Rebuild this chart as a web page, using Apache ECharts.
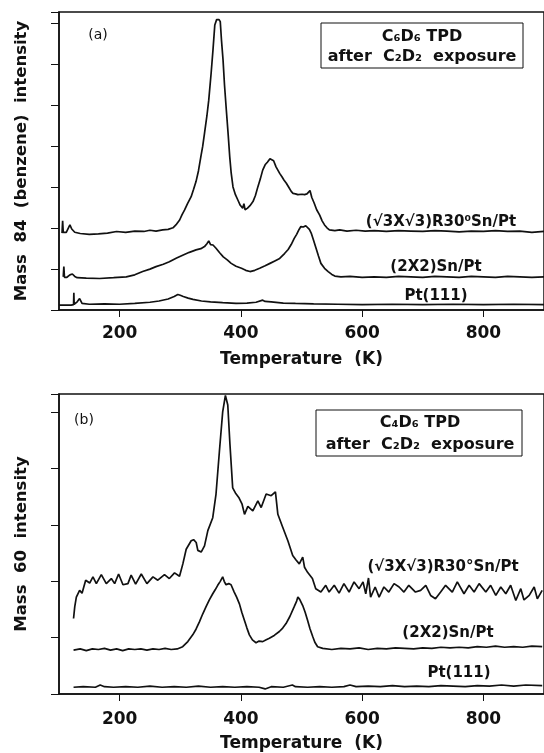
<!DOCTYPE html>
<html>
<head>
<meta charset="utf-8">
<script src="https://cdn.jsdelivr.net/npm/echarts@6/dist/echarts.min.js"></script>
<style>
  html, body { margin: 0; padding: 0; background: #fff; }
  #box { width: 544px; height: 753px; }
</style>
</head>
<body>
<div id="box"></div>
<script>
  // temperature ticks (K)
  const tempTicks = [200, 400, 600, 800];

  // panel (a): mass 84 (benzene), [T (K), intensity in tick units]
  const aR30 = [[105,1.88],[106,2.18],[107,1.9],[112,1.9],[116,2.02],[118,2.08],[121,1.98],[126,1.9],[135,1.87],[150,1.85],[165,1.86],[180,1.88],[195,1.92],[210,1.9],[225,1.93],[240,1.92],[250,1.95],[260,1.93],[271,1.96],[280,1.97],[288,2.01],[294,2.1],[299,2.2],[303,2.33],[307,2.44],[312,2.6],[318,2.77],[322,2.95],[326,3.14],[330,3.4],[334,3.75],[337,4.0],[340,4.32],[344,4.75],[347,5.13],[351,5.8],[354,6.36],[357,6.97],[360,7.1],[362,7.13],[364,7.1],[366,7.05],[368,6.6],[370.6,6.11],[373,5.5],[376,4.89],[379,4.3],[381.6,3.75],[384,3.35],[387,3.01],[391,2.82],[395,2.69],[399,2.56],[403,2.49],[405,2.6],[407,2.45],[411,2.49],[415,2.55],[420,2.65],[424,2.8],[428,3.01],[432,3.2],[436,3.42],[440,3.55],[444,3.62],[448,3.7],[451,3.66],[454,3.65],[458,3.5],[461,3.42],[464,3.34],[468,3.25],[471,3.18],[475,3.1],[479,3.0],[483,2.9],[486,2.85],[490,2.84],[494,2.82],[497,2.81],[501,2.83],[505,2.82],[509,2.84],[512,2.85],[514,2.92],[517,2.75],[521,2.61],[525,2.45],[530,2.32],[534,2.18],[538,2.08],[542,2.01],[546,1.96],[555,1.94],[563,1.96],[575,1.93],[590,1.95],[605,1.93],[620,1.94],[640,1.92],[660,1.94],[680,1.93],[700,1.92],[720,1.94],[740,1.93],[760,1.91],[780,1.93],[800,1.92],[820,1.94],[840,1.92],[860,1.93],[880,1.9],[900,1.92]];
  const aS22 = [[107,0.81],[108,1.06],[109,0.8],[113,0.8],[118,0.86],[122,0.88],[126,0.82],[130,0.79],[145,0.78],[167,0.77],[190,0.79],[211,0.81],[225,0.86],[238,0.94],[250,1.0],[260,1.06],[272,1.12],[282,1.18],[294,1.27],[304,1.34],[315,1.41],[326,1.47],[334,1.5],[340,1.55],[344,1.62],[347,1.69],[350,1.6],[354,1.59],[359,1.51],[365,1.4],[371,1.3],[378,1.22],[384,1.14],[392,1.07],[401,1.02],[408,0.97],[415,0.94],[423,0.97],[431,1.02],[440,1.08],[448,1.14],[456,1.2],[464,1.26],[472,1.38],[478,1.48],[483,1.6],[488,1.75],[492,1.85],[496,1.97],[499,2.04],[503,2.03],[507,2.06],[510,2.05],[513,1.97],[516,1.88],[520,1.7],[524,1.51],[528,1.32],[532,1.14],[538,1.02],[544,0.94],[550,0.87],[555,0.83],[565,0.81],[580,0.82],[600,0.8],[620,0.81],[640,0.8],[660,0.82],[680,0.81],[700,0.8],[720,0.82],[740,0.81],[760,0.8],[780,0.82],[800,0.81],[820,0.8],[840,0.82],[860,0.81],[880,0.8],[900,0.81]];
  const aPt = [[100,0.12],[120,0.12],[124,0.13],[124.5,0.42],[125,0.14],[130,0.2],[134,0.28],[138,0.16],[150,0.14],[175,0.15],[200,0.14],[225,0.16],[250,0.19],[265,0.22],[280,0.27],[290,0.33],[296,0.38],[300,0.36],[305,0.33],[313,0.29],[321,0.26],[335,0.22],[350,0.2],[370,0.18],[392,0.16],[410,0.17],[425,0.19],[436,0.24],[440,0.21],[450,0.2],[470,0.17],[490,0.16],[520,0.15],[560,0.14],[600,0.13],[650,0.14],[700,0.13],[750,0.14],[800,0.13],[850,0.14],[900,0.13]];

  // panel (b): mass 60 (C4D6)
  const bR30 = [[124,1.34],[126,1.55],[128.6,1.72],[134,1.84],[138,1.79],[144,2.02],[150.6,1.97],[156,2.08],[161.6,1.96],[169.8,2.12],[178,1.96],[186.3,2.05],[191.8,1.96],[198.3,2.13],[205.5,1.94],[213.7,1.96],[219,2.11],[226.4,1.95],[235.7,2.13],[245,1.96],[255,2.08],[263,2.02],[274,2.12],[282,2.05],[290.6,2.15],[298.8,2.09],[304.3,2.31],[309.8,2.57],[318,2.72],[322,2.74],[326.3,2.69],[329,2.55],[334.5,2.52],[340,2.63],[345.5,2.9],[353.6,3.13],[359,3.55],[364.6,4.31],[370,5.01],[374.5,5.3],[378.4,5.13],[382,4.43],[386.5,3.66],[391,3.57],[396.5,3.49],[402,3.37],[406,3.19],[411.5,3.33],[419.7,3.25],[428,3.43],[433.5,3.31],[441.7,3.55],[450,3.52],[457,3.59],[461,3.19],[469,2.96],[477.5,2.72],[485.5,2.46],[491,2.38],[496.4,2.31],[502,2.43],[505,2.25],[510,2.16],[518,2.05],[523.5,1.87],[532,1.81],[540,1.93],[545.5,1.81],[554,1.93],[562,1.79],[570,1.96],[578.5,1.81],[586.7,1.99],[595,1.87],[601.5,1.99],[606,1.78],[610.5,2.06],[614,1.72],[621.5,1.9],[628,1.72],[636,1.9],[644,1.81],[652.7,1.96],[661,1.9],[669,1.81],[677,1.93],[688,1.81],[696.5,1.84],[705,1.93],[713,1.75],[721,1.69],[729.5,1.81],[737.7,1.93],[748.7,1.81],[757,1.99],[768,1.78],[776.5,1.93],[784.7,1.81],[793,1.96],[804,1.81],[812,1.93],[820.5,1.75],[828.7,1.9],[837,1.78],[845,1.93],[853.5,1.66],[861.7,1.87],[867,1.67],[875.6,1.75],[883.8,1.9],[889,1.69],[897,1.84]];
  const bS22 = [[124,0.78],[135,0.8],[145,0.77],[155,0.8],[165,0.79],[175,0.81],[185,0.78],[195,0.8],[205,0.77],[215,0.8],[225,0.79],[235,0.8],[245,0.78],[255,0.8],[265,0.79],[275,0.81],[285,0.79],[295,0.8],[304,0.84],[312.5,0.93],[320.6,1.05],[326,1.15],[331.6,1.28],[337,1.42],[342.6,1.55],[348,1.67],[353.6,1.78],[357.6,1.85],[361.8,1.93],[366,2.0],[370,2.08],[372.5,2.0],[375.5,1.94],[380,1.96],[383.8,1.94],[389,1.81],[393,1.72],[397.6,1.6],[401.5,1.45],[405.8,1.31],[410,1.17],[414,1.05],[419,0.96],[425,0.91],[430,0.94],[436,0.93],[441,0.96],[447,0.99],[455,1.04],[463.5,1.11],[469,1.17],[474.5,1.25],[481,1.38],[488,1.55],[492,1.65],[494,1.72],[497,1.68],[502,1.57],[506,1.45],[510,1.31],[514,1.16],[518.5,1.02],[522,0.92],[526.6,0.84],[535,0.81],[550,0.79],[565,0.81],[580,0.8],[595,0.82],[610,0.79],[625,0.81],[640,0.8],[655,0.82],[670,0.81],[685,0.8],[700,0.82],[715,0.81],[730,0.83],[745,0.82],[760,0.83],[775,0.82],[790,0.84],[805,0.83],[820,0.85],[835,0.83],[850,0.84],[865,0.83],[880,0.85],[897,0.84]];
  const bPt = [[124,0.12],[140,0.13],[160,0.12],[168,0.16],[175,0.13],[190,0.12],[210,0.13],[230,0.12],[250,0.14],[270,0.12],[290,0.13],[310,0.12],[330,0.14],[350,0.12],[370,0.13],[390,0.12],[410,0.13],[430,0.12],[440,0.09],[450,0.13],[470,0.12],[485,0.16],[490,0.13],[510,0.12],[530,0.13],[550,0.12],[570,0.13],[580,0.16],[590,0.13],[610,0.14],[630,0.13],[650,0.15],[670,0.13],[690,0.14],[710,0.13],[730,0.15],[750,0.14],[770,0.13],[790,0.15],[810,0.14],[830,0.16],[850,0.14],[870,0.16],[897,0.15]];

  const font = 'DejaVu Sans';
  const ink = '#111';

  const xAxis = (gridIndex, margin) => ({
    type: 'value',
    gridIndex,
    min: 100,
    max: 900,
    interval: 100,
    name: 'Temperature  (K)',
    nameLocation: 'middle',
    nameGap: 41,
    nameTextStyle: { fontFamily: font, fontWeight: 'bold', fontSize: 17, color: ink },
    axisLine: { lineStyle: { color: ink, width: 1.5 } },
    axisTick: { length: 7, customValues: tempTicks, lineStyle: { color: ink, width: 1 } },
    axisLabel: {
      margin,
      customValues: tempTicks,
      fontFamily: font,
      fontWeight: 'bold',
      fontSize: 17,
      color: ink,
    },
    splitLine: { show: false },
  });

  const yAxis = (gridIndex, max, name) => ({
    type: 'value',
    gridIndex,
    min: 0,
    max,
    interval: 1,
    name,
    nameLocation: 'middle',
    nameGap: 29,
    nameTextStyle: { fontFamily: font, fontWeight: 'bold', fontSize: 16.5, color: ink },
    axisLine: { lineStyle: { color: ink, width: 1.5 } },
    axisTick: { length: 8, lineStyle: { color: ink, width: 1 } },
    axisLabel: { show: false },
    splitLine: { show: false },
  });

  const line = (data, i) => ({
    type: 'line',
    xAxisIndex: i,
    yAxisIndex: i,
    data,
    showSymbol: false,
    symbol: 'none',
    lineStyle: { color: ink, width: 1.7 },
    clip: true,
  });

  const label = (text, x, y, size) => ({
    type: 'text',
    x,
    y,
    style: {
      text,
      fontFamily: font,
      fontWeight: 'bold',
      fontSize: size || 15,
      fill: ink,
      align: 'center',
      verticalAlign: 'middle',
    },
  });

  const chart = echarts.init(document.getElementById('box'), null, { renderer: 'canvas' });
  chart.setOption({
    animation: false,
    backgroundColor: '#fff',
    grid: [
      { left: 59, right: -2, top: 12, height: 298, show: true, borderColor: ink, borderWidth: 1.5 },
      { left: 59, right: -2, top: 394, height: 302, show: true, borderColor: ink, borderWidth: 1.5 },
    ],
    xAxis: [xAxis(0, 15), xAxis(1, 17)],
    yAxis: [
      yAxis(0, 298 / 40.9, 'Mass  84  (benzene)  intensity'),
      yAxis(1, 302 / 56.7, 'Mass  60  intensity'),
    ],
    series: [
      line(aR30, 0), line(aS22, 0), line(aPt, 0),
      line(bR30, 1), line(bS22, 1), line(bPt, 1),
    ],
    graphic: [
      { type: 'text', x: 98, y: 35, style: { text: '(a)', fontFamily: font, fontSize: 14, fill: ink, align: 'center', verticalAlign: 'middle' } },
      { type: 'rect', shape: { x: 321, y: 23, width: 202, height: 45 }, style: { fill: 'none', stroke: ink, lineWidth: 1 } },
      label('C₆D₆ TPD', 422, 37, 16),
      label('after  C₂D₂  exposure', 422, 57, 16),
      label('(√3X√3)R30⁰Sn/Pt', 441, 222),
      label('(2X2)Sn/Pt', 436, 267),
      label('Pt(111)', 436, 296),

      { type: 'text', x: 84, y: 420, style: { text: '(b)', fontFamily: font, fontSize: 14, fill: ink, align: 'center', verticalAlign: 'middle' } },
      { type: 'rect', shape: { x: 316, y: 410, width: 206, height: 46 }, style: { fill: 'none', stroke: ink, lineWidth: 1 } },
      label('C₄D₆ TPD', 420, 423, 16),
      label('after  C₂D₂  exposure', 420, 445, 16),
      label('(√3X√3)R30°Sn/Pt', 443, 567),
      label('(2X2)Sn/Pt', 448, 633),
      label('Pt(111)', 459, 673),
    ],
  });
</script>
</body>
</html>
